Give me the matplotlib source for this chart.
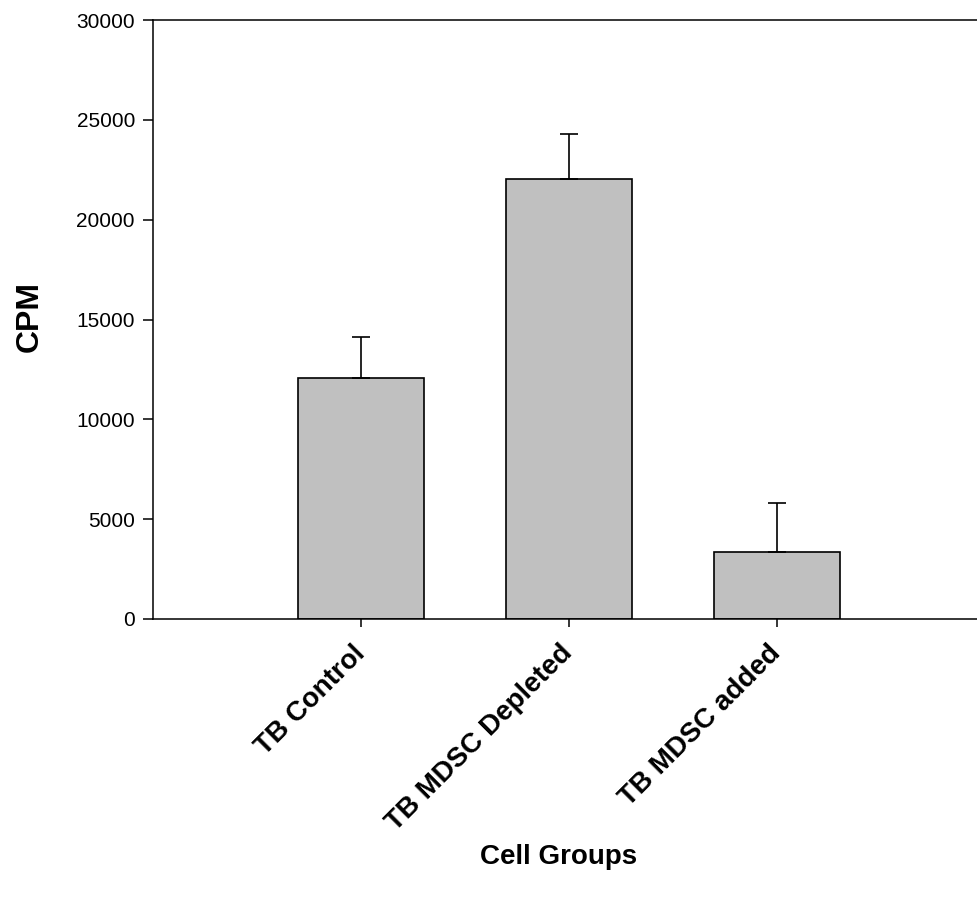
import matplotlib
matplotlib.use("Agg")
import matplotlib.pyplot as plt

categories = ["TB Control", "TB MDSC Depleted", "TB MDSC added"]
values = [12050, 22030, 3350]
errors = [2050, 2250, 2450]
yticks = [0, 5000, 10000, 15000, 20000, 25000, 30000]

plt.rcParams['font.family'] = ['Liberation Sans', 'DejaVu Sans']

W, H = 977, 909
fig = plt.figure(figsize=(W / 100, H / 100), dpi=100)
ax = fig.add_axes([153 / W, 1 - 619 / H, (985 - 153) / W, (619 - 20) / H])

x = [1, 2, 3]
ax.bar(x, values, width=0.61, color="#c0c0c0", edgecolor="black", linewidth=1.2, zorder=2)
ax.errorbar(x, values, yerr=[[0, 0, 0], errors], fmt="none", ecolor="black",
            elinewidth=1.2, capsize=6.5, capthick=1.2, zorder=3)

ax.set_xlim(0, 4)
ax.set_ylim(0, 30000)
ax.set_yticks(yticks)
ax.set_yticklabels([str(t) for t in yticks], fontsize=15)
ax.set_xticks(x)
ax.set_xticklabels(categories, rotation=45, ha="right", va="center",
                   rotation_mode="anchor", fontsize=20, fontweight="bold")
ax.tick_params(axis="y", direction="out", length=7, width=1.1, pad=6)
ax.tick_params(axis="x", direction="out", length=6, width=1.1, pad=16)
for s in ax.spines.values():
    s.set_linewidth(1.1)

fig.text(30 / W, 1 - 316 / H, "CPM", rotation=90, ha="center", va="center",
         fontsize=23, fontweight="bold")
fig.text(559 / W, 1 - 857 / H, "Cell Groups", ha="center", va="center",
         fontsize=20, fontweight="bold")

fig.savefig("out.png", dpi=100)
